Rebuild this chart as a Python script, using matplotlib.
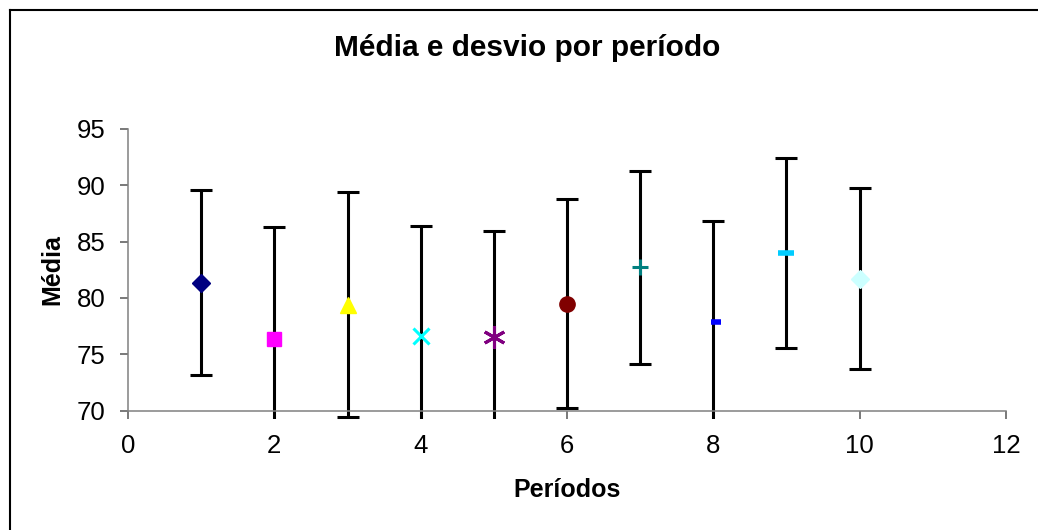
import matplotlib
matplotlib.use("Agg")
import matplotlib.pyplot as plt
from matplotlib.lines import Line2D
from matplotlib.patches import Rectangle

plt.rcParams['font.family'] = ['Liberation Sans', 'DejaVu Sans']

# Data
periods = [1, 2, 3, 4, 5, 6, 7, 8, 9, 10]
means = [81.35, 76.35, 79.4, 76.65, 76.55, 79.47, 82.7, 77.83, 83.96, 81.7]
stds = [8.2, 9.95, 10.0, 9.7, 9.4, 9.28, 8.58, 9.0, 8.44, 8.03]

colors = ['#000080', '#FF00FF', '#FFFF00', '#00FFFF', '#800080',
          '#800000', '#008080', '#0000FF', '#00CCFF', '#CCFFFF']
markers = ['D', 's', '^', 'x', (6, 2, 0), 'o', '+', '_', '_', 'D']
msizes = [9, 10, 11, 11, 16, 11, 12, 7, 11, 9.5]
mews = [1, 1, 1, 2.2, 2.2, 1, 2.2, 4, 4, 1]

title = 'Média e desvio por período'
xlabel = 'Períodos'
ylabel = 'Média'
xticks = [0, 2, 4, 6, 8, 10, 12]
yticks = [70, 75, 80, 85, 90, 95]

fig = plt.figure(figsize=(10.38, 5.3), dpi=100)
ax = fig.add_axes([128 / 1038, 1 - 410.5 / 530, 878 / 1038, 281.5 / 530])

clip_rect = Rectangle((0, -0.03), 1, 1.2, transform=ax.transAxes,
                      facecolor='none', edgecolor='none')
ax.add_patch(clip_rect)

for i, (x, m, s) in enumerate(zip(periods, means, stds)):
    cont = ax.errorbar([x], [m], yerr=[s], fmt='none', ecolor='black',
                       elinewidth=2.2, capsize=8, capthick=2.2, zorder=2)
    for art in list(cont.lines[1]) + list(cont.lines[2]):
        art.set_clip_path(clip_rect)
    xoff = 0.04 if i == 7 else 0
    mk = markers[i]
    if mk in ('x', '+', '_') or isinstance(mk, tuple):
        ax.plot([x + xoff], [m], linestyle='none', marker=mk, markersize=msizes[i],
                markeredgecolor=colors[i], markeredgewidth=mews[i], zorder=3,
                clip_on=False)
    else:
        ax.plot([x], [m], linestyle='none', marker=mk, markersize=msizes[i],
                markerfacecolor=colors[i], markeredgecolor=colors[i], zorder=3,
                clip_on=False)

ax.set_xlim(0, 12)
ax.set_ylim(70, 95)
ax.set_xticks(xticks)
ax.set_yticks(yticks)
ax.tick_params(axis='both', labelsize=18.5, colors='#555555', labelcolor='black',
               length=6, width=1.1, direction='out')
ax.tick_params(axis='y', pad=10)
ax.tick_params(axis='x', pad=11)

for sp in ['top', 'right']:
    ax.spines[sp].set_visible(False)
for sp in ['left', 'bottom']:
    ax.spines[sp].set_color('#808080')
    ax.spines[sp].set_linewidth(1.1)

ax.set_xlabel(xlabel, fontsize=18, fontweight='bold', labelpad=14)
ax.set_ylabel(ylabel, fontsize=18, fontweight='bold', labelpad=9)
fig.text(527 / 1038, 1 - 48 / 530, title, ha='center', va='center',
         fontsize=21.5, fontweight='bold')

# figure border (Excel chart area frame)
bx = 10 / 1038
by = 1 - 10 / 530
fig.add_artist(Line2D([bx, bx], [0, by], transform=fig.transFigure,
                      color='black', linewidth=1.5))
fig.add_artist(Line2D([bx, 1], [by, by], transform=fig.transFigure,
                      color='black', linewidth=1.5))

fig.savefig('out.png', dpi=100)
